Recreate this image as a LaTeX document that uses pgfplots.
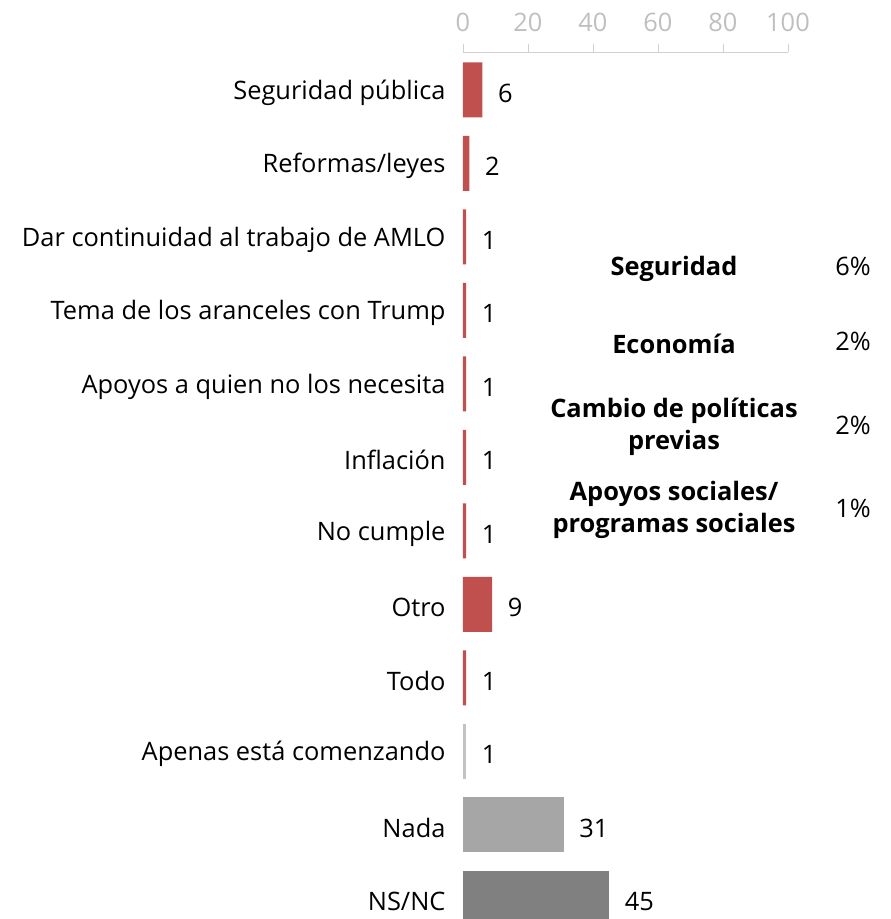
\documentclass[border=0pt]{standalone}
\usepackage{fontspec}
\setmainfont{Open Sans}
\usepackage{pgfplots}
\pgfplotsset{compat=1.18}
\usetikzlibrary{calc}
\definecolor{barred}{HTML}{C0504D}
\definecolor{grayA}{HTML}{C3C3C3}
\definecolor{grayB}{HTML}{A6A6A6}
\definecolor{grayC}{HTML}{808080}
\definecolor{tickgray}{HTML}{BFBFBF}
\definecolor{axisgray}{HTML}{D0D0D0}
\newcommand{\lblfont}{\fontsize{25.4}{32}\selectfont}
\begin{document}
\begin{tikzpicture}
\begin{axis}[
    scale only axis,
    width=325pt, height=867pt,
    xmin=0, xmax=100,
    ymin=-0.279, ymax=11.517,
    xbar, bar width=55pt, bar shift=0pt,
    clip mode=individual,
    axis x line*=top,
    axis y line*=left,
    y axis line style={draw=none},
    x axis line style={draw=axisgray, line width=0.8pt},
    xtick={0,20,40,60,80,100},
    tick align=outside,
    major tick length=8pt,
    xtick style={draw=axisgray, line width=0.8pt},
    ytick style={draw=none},
    xticklabel style={text=tickgray, font=\lblfont, yshift=9pt},
    /pgf/number format/assume math mode=true,
    ytick={0,1,2,3,4,5,6,7,8,9,10,11},
    yticklabels={NS/NC, Nada, Apenas está comenzando, Todo, Otro, No cumple,
      Inflación, Apoyos a quien no los necesita, Tema de los aranceles con Trump,
      Dar continuidad al trabajo de AMLO, Reformas/leyes, Seguridad pública},
    yticklabel style={font=\lblfont, text=black, xshift=-6pt, yshift=-2.5pt},
    nodes near coords,
    nodes near coords style={anchor=west, xshift=12pt, yshift=-3pt, font=\lblfont, text=black},
]
\addplot[fill=barred, draw=none] coordinates {
  (6,11) (2,10) (1,9) (1,8) (1,7) (1,6) (1,5) (9,4) (1,3)};
\addplot[fill=grayA, draw=none] coordinates {(1,2)};
\addplot[fill=grayB, draw=none] coordinates {(31,1)};
\addplot[fill=grayC, draw=none] coordinates {(45,0)};
\coordinate (TL) at (rel axis cs:0,1);
\end{axis}
\begin{scope}[every node/.style={align=center}]
\node[font=\lblfont\bfseries] at ($(TL)+(211pt,-217pt)$) {Seguridad};
\node[font=\lblfont\bfseries] at ($(TL)+(211pt,-292pt)$) {Economía};
\node[font=\lblfont\bfseries] at ($(TL)+(211pt,-375pt)$) {Cambio de políticas\\previas};
\node[font=\lblfont\bfseries] at ($(TL)+(211pt,-458pt)$) {Apoyos sociales/\\programas sociales};
\node[font=\lblfont] at ($(TL)+(390pt,-214pt)$) {6\%};
\node[font=\lblfont] at ($(TL)+(390pt,-289pt)$) {2\%};
\node[font=\lblfont] at ($(TL)+(390pt,-373pt)$) {2\%};
\node[font=\lblfont] at ($(TL)+(390pt,-456pt)$) {1\%};
\end{scope}
\pgfresetboundingbox
\path[use as bounding box] ($(TL)+(-463pt,52pt)$) rectangle ($(TL)+(428pt,-867pt)$);
\end{tikzpicture}
\end{document}
